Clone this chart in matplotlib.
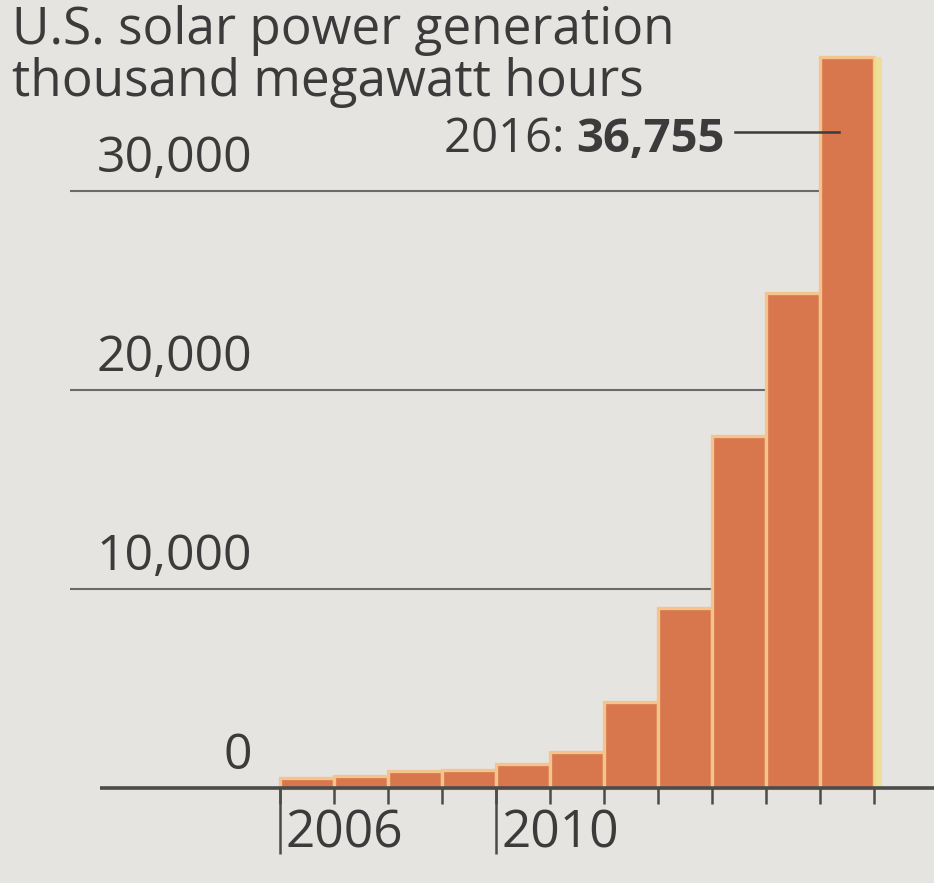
import matplotlib.pyplot as plt

# U.S. solar power generation, thousand megawatt hours
years = [2006, 2007, 2008, 2009, 2010, 2011, 2012, 2013, 2014, 2015, 2016]
generation = [508, 612, 864, 891, 1212, 1818, 4327, 9036, 17691, 24893, 36755]
grid_values = [0, 10000, 20000, 30000]
grid_labels = ['0', '10,000', '20,000', '30,000']
labeled_years = [2006, 2010]

plt.rcParams['font.family'] = ['Open Sans', 'DejaVu Sans']
text_color = '#3b3b3b'

W, H = 934, 883
PX_YEAR = 54.0          # pixels per year
PX_VAL = 199.0 / 10000  # pixels per unit value
BASE_PX = 788           # baseline, pixels from top

x0 = 2005.5 - 280 / PX_YEAR


def xd(p):
    # horizontal pixel -> data
    return x0 + p / PX_YEAR


def yd(p):
    # pixel offset above baseline -> data
    return p / PX_VAL


fig = plt.figure(figsize=(W / 100, H / 100), dpi=100)
fig.patch.set_facecolor('#e6e4e1')
ax = fig.add_axes([0, 0, 1, 1])
ax.set_facecolor('none')
ax.axis('off')
ax.set_xlim(x0, xd(W))
ax.set_ylim(yd(BASE_PX - H), yd(BASE_PX))

# gridlines behind bars
ax.hlines(grid_values[1:], xd(70), years[-1] + 0.5, color='#6a6a6a', lw=1.5, zorder=1)

# bars
ax.bar(years, generation, width=1.0, color='#d8764d', edgecolor='#f4c48e',
       linewidth=2.4, zorder=2)
# pale yellow fringe on the right of the last bar
ax.bar(years[-1] + 0.5, generation[-1], width=0.14, align='edge', color='#f1de86',
       alpha=0.8, linewidth=0, zorder=2)

# baseline and ticks
ax.hlines(0, xd(100), xd(W), color='#4b4b4b', lw=2.6, zorder=3)
edges = [y - 0.5 for y in years] + [years[-1] + 0.5]
ax.vlines(edges, yd(-16), 0, color='#4b4b4b', lw=1.8, zorder=3)
ax.vlines([y - 0.5 for y in labeled_years], yd(-66), 0, color='#4b4b4b', lw=1.8, zorder=3)
for y in labeled_years:
    ax.text(y - 0.5 + 6 / PX_YEAR, yd(-20), str(y), ha='left', va='top',
            fontsize=37, color=text_color)

# value labels
for v, lab in zip(grid_values, grid_labels):
    ax.text(xd(252), v + yd(7), lab, ha='right', va='bottom',
            fontsize=36, color=text_color)

# title
fig.text(12 / W, 1 - 44 / H, 'U.S. solar power generation', ha='left', va='baseline',
         fontsize=37, color=text_color)
fig.text(12 / W, 1 - 96 / H, 'thousand megawatt hours', ha='left', va='baseline',
         fontsize=37, color=text_color)

# 2016 annotation
num = ax.text(xd(725), yd(BASE_PX - 152), f'{generation[-1]:,}', ha='right',
              va='baseline', fontsize=34, fontweight='bold', color=text_color)
ax.annotate(f'{years[-1]}: ', xy=(0, 0), xycoords=num, ha='right', va='bottom',
            fontsize=34, color=text_color)
ax.plot([xd(735), years[-1] - 0.15], [yd(BASE_PX - 132)] * 2, color='#3b3b3b',
        lw=1.8, zorder=3)

fig.savefig('out.png', dpi=100, facecolor=fig.get_facecolor())
